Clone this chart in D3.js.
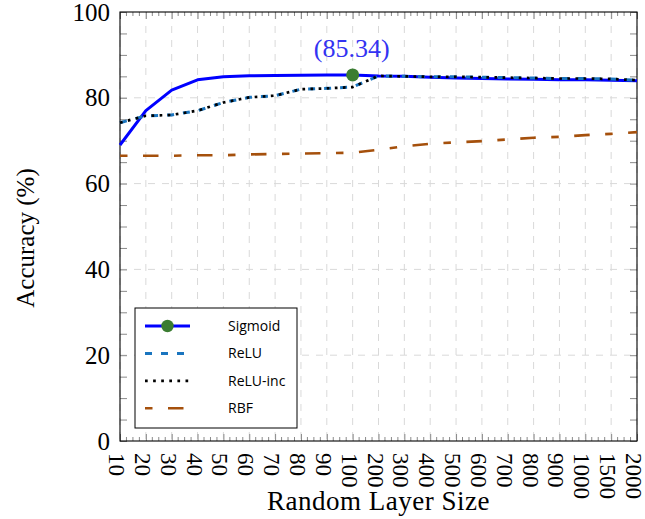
<!DOCTYPE html>
<html>
<head>
<meta charset="utf-8">
<script src="https://cdn.jsdelivr.net/npm/d3@7"></script>
<style>
  html, body { margin: 0; padding: 0; background: #fff; }
  svg { display: block; }
</style>
</head>
<body>
<svg id="chart" width="645" height="519"></svg>
<script>
// Layer sizes (categorical x axis)
const sizes = ["10","20","30","40","50","60","70","80","90","100",
               "200","300","400","500","600","700","800","900","1000","1500","2000"];

// Accuracy (%) per activation
const sigmoid = [69.0, 77.0, 81.8, 84.2, 84.9, 85.15, 85.2, 85.25, 85.3, 85.34,
                 85.1, 85.0, 84.8, 84.6, 84.5, 84.4, 84.3, 84.2, 84.2, 84.1, 84.0];
const relu    = [74.2, 75.8, 76.0, 77.0, 78.9, 80.1, 80.5, 82.0, 82.2, 82.5,
                 85.1, 85.0, 84.9, 84.9, 84.8, 84.7, 84.6, 84.5, 84.5, 84.4, 84.1];
const reluInc = [74.2, 75.8, 76.0, 77.0, 78.9, 80.1, 80.5, 82.0, 82.2, 82.5,
                 85.1, 85.0, 84.9, 84.9, 84.8, 84.7, 84.6, 84.5, 84.5, 84.4, 84.1];
const rbf     = [66.5, 66.5, 66.5, 66.6, 66.6, 66.8, 66.9, 67.0, 67.1, 67.2,
                 67.9, 68.7, 69.3, 69.6, 69.9, 70.3, 70.7, 70.9, 71.3, 71.6, 72.0];

// Highlighted best Sigmoid result
const peakSize = "100";
const peakValue = 85.34;

const yMajor = [0, 20, 40, 60, 80, 100];
const yMinor = d3.range(0, 101, 5);

const plotL = 120, plotR = 637, plotT = 12, plotB = 441;
const serif = "'Liberation Serif', 'Times New Roman', serif";
const sans = "'Open Sans', 'DejaVu Sans', sans-serif";

const svg = d3.select("#chart");
const x = d3.scalePoint().domain(sizes).range([plotL, plotR]);
const y = d3.scaleLinear().domain([0, 100]).range([plotB, plotT]);

// grid
const grid = svg.append("g").attr("stroke", "#d9d9d9").attr("stroke-width", 1)
  .attr("stroke-dasharray", "7,7");
grid.selectAll("line.v").data(sizes).join("line").attr("class", "v")
  .attr("x1", d => x(d)).attr("x2", d => x(d)).attr("y1", plotT).attr("y2", plotB);
grid.selectAll("line.h").data(yMajor.filter(v => v > 0 && v < 100)).join("line").attr("class", "h")
  .attr("x1", plotL).attr("x2", plotR).attr("y1", d => y(d)).attr("y2", d => y(d));

// minor x tick positions: three between neighbouring categories
const minorX = [];
for (let i = 0; i < sizes.length - 1; i++) {
  const a = x(sizes[i]), b = x(sizes[i + 1]);
  for (let k = 1; k < 4; k++) minorX.push(a + (b - a) * k / 4);
}
const tickColor = "#8a8a8a";
const minor = svg.append("g").attr("stroke", tickColor).attr("stroke-width", 1);
minor.selectAll("line.b").data(minorX).join("line").attr("class", "b")
  .attr("x1", d => d).attr("x2", d => d).attr("y1", plotB).attr("y2", plotB - 4);
minor.selectAll("line.t").data(minorX).join("line").attr("class", "t")
  .attr("x1", d => d).attr("x2", d => d).attr("y1", plotT).attr("y2", plotT + 4);

// axes (ticks pointing inward)
const yLeft = svg.append("g").attr("transform", `translate(${plotL},0)`)
  .call(d3.axisLeft(y).tickValues(yMinor).tickSize(-7).tickPadding(10)
    .tickFormat(d => yMajor.includes(d) ? d : ""));
const yRight = svg.append("g").attr("transform", `translate(${plotR},0)`)
  .call(d3.axisRight(y).tickValues(yMinor).tickSize(-7).tickFormat(""));
const xBottom = svg.append("g").attr("transform", `translate(0,${plotB})`)
  .call(d3.axisBottom(x).tickSize(-7).tickPadding(0));
const xTop = svg.append("g").attr("transform", `translate(0,${plotT})`)
  .call(d3.axisTop(x).tickSize(-7).tickFormat(""));

[yLeft, yRight, xBottom, xTop].forEach(g => {
  g.select(".domain").remove();
  g.selectAll(".tick line").attr("stroke", tickColor);
});
yLeft.selectAll(".tick text").attr("font-family", serif).attr("font-size", 25).attr("fill", "#000");
xBottom.selectAll(".tick text")
  .attr("font-family", serif).attr("font-size", 23).attr("fill", "#000")
  .attr("text-anchor", "start")
  .attr("transform", "translate(0,12) rotate(90)")
  .attr("x", 0).attr("y", 0).attr("dy", "0.5em");

// frame
svg.append("rect").attr("x", plotL).attr("y", plotT)
  .attr("width", plotR - plotL).attr("height", plotB - plotT)
  .attr("fill", "none").attr("stroke", "#000").attr("stroke-width", 1.1);

// series
const series = [
  { name: "Sigmoid",  values: sigmoid, color: "#0000ff", width: 3,   dash: null },
  { name: "ReLU",     values: relu,    color: "#1a75bf", width: 3,   dash: "7,9" },
  { name: "ReLU-inc", values: reluInc, color: "#000000", width: 2.7, dash: "2.7,5.4" },
  { name: "RBF",      values: rbf,     color: "#a5500c", width: 2.6, dash: "7.5,15.5,15.5,15.5" }
];
const line = d3.line().x((d, i) => x(sizes[i])).y(d => y(d));
series.forEach(s => {
  svg.append("path").datum(s.values)
    .attr("d", line).attr("fill", "none")
    .attr("stroke", s.color).attr("stroke-width", s.width)
    .attr("stroke-linejoin", "round")
    .attr("stroke-dasharray", s.dash);
});

// peak marker and its label
const markerColor = "#3b7d32";
svg.append("circle").attr("cx", x(peakSize)).attr("cy", y(peakValue)).attr("r", 6.5)
  .attr("fill", markerColor);
svg.append("text").attr("x", x(peakSize) - 1).attr("y", y(peakValue) - 18)
  .attr("text-anchor", "middle").attr("font-family", serif).attr("font-size", 26)
  .attr("fill", "#3333f2").text(`(${peakValue.toFixed(2)})`);

// axis titles
svg.append("text").attr("x", (plotL + plotR) / 2).attr("y", 510)
  .attr("text-anchor", "middle").attr("font-family", serif).attr("font-size", 27)
  .attr("letter-spacing", 0.5)
  .text("Random Layer Size");
svg.append("text").attr("transform", "translate(34,238) rotate(-90)")
  .attr("text-anchor", "middle").attr("font-family", serif).attr("font-size", 25)
  .text("Accuracy (%)");

// legend
const lg = svg.append("g");
lg.append("rect").attr("x", 135).attr("y", 308).attr("width", 162).attr("height", 120)
  .attr("fill", "#fff").attr("stroke", "#000").attr("stroke-width", 1);
series.forEach((s, i) => {
  const ry = 326 + i * 27.4;
  lg.append("line").attr("x1", 145).attr("x2", 190).attr("y1", ry).attr("y2", ry)
    .attr("stroke", s.color).attr("stroke-width", s.width)
    .attr("stroke-dasharray", s.dash);
  if (i === 0) {
    lg.append("circle").attr("cx", 167.5).attr("cy", ry).attr("r", 6.2).attr("fill", markerColor);
  }
  lg.append("text").attr("x", 228).attr("y", ry).attr("dy", "0.35em")
    .attr("font-family", sans).attr("font-size", 14).text(s.name);
});
</script>
</body>
</html>
